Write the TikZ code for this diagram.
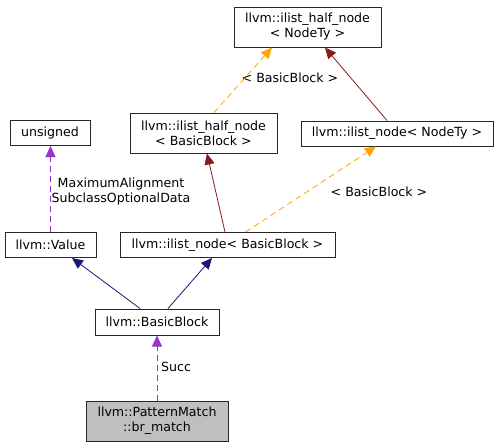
\documentclass[tikz,border=0pt]{standalone}
\usepackage{fontspec}
\setmainfont{DejaVu Sans}
\usetikzlibrary{arrows.meta}
\definecolor{inhblue}{HTML}{191970}
\definecolor{tmplred}{HTML}{8B1A1A}
\definecolor{tmplorange}{HTML}{FFA500}
\definecolor{usepurple}{HTML}{9A32CD}
\definecolor{boxgray}{HTML}{BFBFBF}
\begin{document}
\begin{tikzpicture}[x=1pt,y=-1pt,>={Triangle[length=11pt,width=10pt]},line width=0.8pt,
  font=\fontsize{12.6}{15}\selectfont,
  cls/.style={draw=black!85,line width=1pt,align=center,inner sep=0pt,minimum height=25pt},
  usedash/.style={dash pattern=on 6pt off 4pt}]
\useasboundingbox (0,0) rectangle (499,448);
\node[cls,minimum width=147pt,minimum height=40pt] (HNT) at (307.5,27) {llvm::ilist\_half\_node\\< NodeTy >};
\node[cls,minimum width=80pt] (U) at (50,133) {unsigned};
\node[cls,minimum width=147pt,minimum height=40pt] (HBB) at (203.5,133) {llvm::ilist\_half\_node\\< BasicBlock >};
\node[cls,minimum width=192pt] (NNT) at (397,133.5) {llvm::ilist\_node< NodeTy >};
\node[cls,minimum width=91pt] (V) at (50.5,245) {llvm::Value};
\node[cls,minimum width=215pt] (NBB) at (227.5,245) {llvm::ilist\_node< BasicBlock >};
\node[cls,minimum width=124pt,minimum height=26pt] (BB) at (157,322) {llvm::BasicBlock};
\node[cls,fill=boxgray,minimum width=142pt,minimum height=40pt] (BRM) at (157,421) {llvm::PatternMatch\\::br\_match};
% edge labels
\node[align=center] (lblHalf) at (290,78) {< BasicBlock >};
\node[align=center] (lblNode) at (379,192) {< BasicBlock >};
\node[align=center] (lblVal) at (121,191.5) {MaximumAlignment\\SubclassOptionalData};
\node (lblSucc) at (176,367) {Succ};
% connectors
\draw[->,inhblue] ([xshift=-17pt]BB.north) -- ([xshift=21.5pt]V.south);
\draw[->,inhblue] ([xshift=11pt]BB.north) -- ([xshift=-15.5pt]NBB.south);
\draw[->,tmplred] ([xshift=-2.5pt]NBB.north) -- ([xshift=3.5pt]HBB.south);
\draw[->,tmplred] ([xshift=-10pt]NNT.north) -- ([xshift=17.5pt]HNT.south);
\draw[->,tmplorange,usedash] ([xshift=10.5pt]HBB.north) -- ([xshift=-35.5pt]HNT.south);
\draw[->,tmplorange,usedash] ([xshift=18pt]NBB.north) -- ([xshift=-21pt]NNT.south);
\draw[->,usepurple,usedash] (V.north) -- (V.north |- U.south);
\draw[->,usepurple,usedash] (BRM) -- (BB);
\end{tikzpicture}
\end{document}
